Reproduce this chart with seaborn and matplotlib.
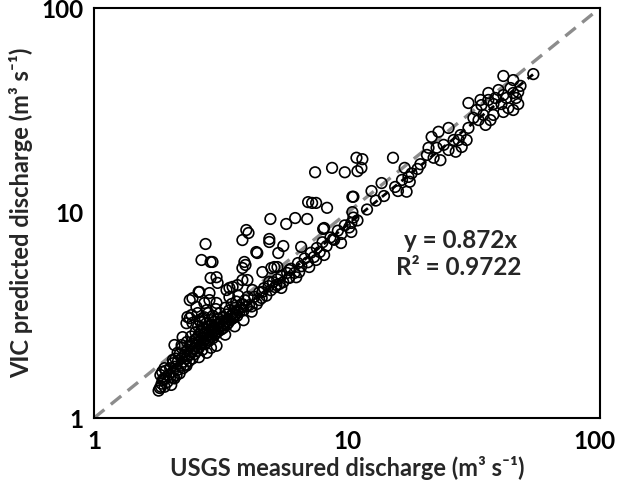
import matplotlib
matplotlib.use("Agg")
import matplotlib.pyplot as plt
import matplotlib.transforms as mtransforms
import seaborn as sns
import pandas as pd
import numpy as np

# ---- data ----
blob_x = [1.82,1.85,1.83,1.88,1.90,1.92,1.95,1.97,2.00,2.00,2.02,2.05,2.05,2.08,2.10,2.10,2.12,2.15,2.15,2.18,
          2.18,2.20,2.22,2.22,2.25,2.25,2.28,2.30,2.30,2.32,2.33,2.35,2.35,2.38,2.40,2.40,2.42,2.44,2.45,2.46,
          2.48,2.50,2.50,2.52,2.53,2.55,2.55,2.57,2.58,2.60,2.60,2.62,2.63,2.65,2.65,2.67,2.68,2.70,2.70,2.72,
          2.73,2.75,2.75,2.77,2.78,2.80,2.80,2.82,2.83,2.85,2.85,2.87,2.88,2.90,2.90,2.92,2.93,2.95,2.95,2.97,
          2.98,3.00,3.00,3.02,3.03,3.05,3.05,3.08,3.10,3.10,3.12,3.15,3.15,3.18,3.20,3.22,3.25,3.25,3.28,3.30,
          3.32,3.35,3.35,3.38,3.40,3.42,3.45,3.48,3.50,3.52,3.55,3.58,3.60,3.62,3.65,3.68,3.70,3.72,3.75,3.80,
          3.85,3.90,3.95,4.00,4.05,4.10,
          2.32,2.43,2.54,2.24,2.22,2.14,2.05,1.90,1.87,1.84,2.08,
          2.79,3.05,2.32,2.05,2.60,2.90,3.30,3.60,3.90,4.20,1.80,1.86]
blob_y = [1.40,1.47,1.62,1.55,1.42,1.70,1.50,1.62,1.58,1.75,1.45,1.68,1.85,1.56,1.78,1.95,1.62,1.72,1.90,1.65,
          2.05,1.80,1.95,2.20,1.75,1.88,2.02,1.82,2.10,1.95,2.35,2.00,2.15,1.90,2.05,2.25,2.50,2.10,1.95,2.30,
          2.18,2.05,2.40,2.62,2.25,2.12,2.45,2.32,2.80,2.20,2.55,2.38,2.95,2.28,2.65,2.45,2.15,2.35,2.75,2.55,
          3.10,2.30,2.62,2.45,2.90,2.40,2.70,2.55,3.25,2.38,2.80,2.62,2.48,2.72,3.00,2.55,2.85,2.45,3.15,2.65,
          2.78,2.55,2.95,2.68,3.40,2.60,2.85,2.75,3.05,2.65,2.90,2.78,3.25,2.70,2.95,2.82,3.10,2.75,2.90,3.45,
          2.95,2.85,3.20,3.05,2.92,3.35,3.00,3.15,3.60,3.05,3.25,3.10,3.45,3.20,3.70,3.15,3.35,3.95,3.28,3.45,
          3.60,3.35,3.75,3.50,3.90,3.55,
          2.90,3.18,3.48,2.48,2.27,2.08,1.92,1.75,1.53,1.42,2.27,
          2.08,2.25,1.80,1.57,1.98,2.20,2.55,2.80,3.00,3.30,1.36,1.68]

trail_x = [4.2,4.3,4.4,4.5,4.6,4.7,4.8,4.9,5.0,5.1,5.2,5.3,5.4,5.5,5.6,5.8,5.9,6.0,6.2,6.4,6.6,6.8,7.0,7.2,
           7.4,7.6,7.8,8.0,8.3,8.6,8.9,9.2,9.5,9.8,10.2,10.6,11.0,
           12.0,13.0,14.0,15.5,16.5,18.0,19.0,19.5]
trail_y = [3.5,3.9,3.6,4.1,3.85,4.3,3.95,4.4,4.2,4.6,4.35,4.75,4.5,4.95,4.6,5.1,4.85,5.35,5.1,5.7,5.5,6.0,
           5.75,6.4,6.1,6.75,6.45,7.2,6.9,7.6,7.4,8.2,7.9,8.7,8.5,9.5,9.2,
           10.4,11.5,12.1,13.4,14.5,15.6,16.4,17.3]

scatter_x = [4.98,5.75,6.24,6.96,8.05,4.93,7.48,8.73,7.02,7.28,7.55,8.34,3.86,4.00,4.08,4.93,5.60,6.59,5.35,
             4.38,4.42,2.94,3.93,3.97,3.86,4.63,5.02,5.16,5.31,5.91,6.47,7.09,7.55,8.12,4.93,5.26,5.50,5.91,
             6.30,3.05,4.04,3.43,4.23,4.63,4.50,2.76,2.66,2.89,2.89,3.08,2.59,2.86,3.86,3.34,3.53,3.43,3.69,
             2.86,3.05,2.79,2.57,2.39,2.45,2.61,8.12,8.81,9.47,2.39,2.45,2.61,2.34,2.73,2.69,
             9.8,10.9,11.5,11.0,11.4,10.6,10.5,10.5,10.4,10.4,15.2,16.9,17.5,17.7,13.7,12.5,15.9,17.2]
scatter_y = [9.35,8.84,9.45,9.35,8.36,7.47,15.8,16.6,11.3,11.2,11.2,10.6,7.38,8.26,7.99,7.22,6.90,6.83,6.38,
             6.45,6.38,5.77,5.77,5.58,5.39,5.15,5.39,5.45,5.45,5.27,5.15,5.45,5.90,6.24,4.61,4.45,4.31,4.82,
             4.86,4.86,4.71,4.31,4.21,4.12,3.76,7.06,5.90,5.77,4.82,4.56,4.12,4.07,4.71,4.21,4.36,3.89,4.45,
             3.76,3.64,3.36,3.25,3.07,2.91,3.01,8.45,7.47,7.14,3.76,3.84,4.12,3.11,3.64,3.07,
             15.8,18.6,18.3,16.0,16.6,12.0,12.0,10.1,8.94,8.08,18.6,16.6,15.0,14.2,14.0,12.8,12.8,12.7]

upper_x = [54.5,41.5,45.4,36.2,30.2,34.0,
           39.7,41.5,42.7,44.3,45.4,46.6,47.5,48.5,43.4,40.8,38.6,37.9,45.4,41.5,47.5,
           32.5,34.6,36.2,36.9,33.1,35.3,37.9,31.6,33.7,
           28.1,30.2,29.7,
           21.0,21.6,23.0,25.2,27.6,28.4,26.9,24.1,22.6,22.0,20.7,23.4,25.2,26.4]
upper_y = [47.6,46.6,44.5,38.5,34.4,33.6,
           39.8,37.6,36.4,40.7,38.5,36.4,34.0,41.7,32.5,34.0,36.4,34.0,31.8,31.1,38.9,
           31.8,30.1,35.6,28.4,28.4,26.9,30.1,29.1,35.6,
           24.0,26.0,22.7,
           20.8,23.5,24.9,26.0,22.7,21.0,19.9,21.5,20.8,18.6,19.2,18.1,20.3,22.7]

slope = 0.872
r2 = 0.9722
x_ticks = [1, 10, 100]
y_ticks = [1, 10, 100]

measured = blob_x + trail_x + scatter_x + upper_x
predicted = blob_y + trail_y + scatter_y + upper_y
df = pd.DataFrame({"measured": measured, "predicted": predicted})

# ---- style ----
sns.set_style("white")
plt.rcParams["font.family"] = ["Lato", "DejaVu Sans"]
plt.rcParams["font.weight"] = "bold"
FS = 17.5

fig = plt.figure(figsize=(6.19, 4.90), dpi=100)
ax = fig.add_axes([94/619, 72/490, 506/619, 410/490])

sns.scatterplot(data=df, x="measured", y="predicted", ax=ax, marker="o",
                facecolor="none", edgecolor="black", linewidth=1.2, s=58, zorder=2)

ax.set_xscale("log")
ax.set_yscale("log")
ax.set_xlim(1, 100)
ax.set_ylim(1, 100)

# 1:1 line
ax.plot([x_ticks[0], x_ticks[-1]], [y_ticks[0], y_ticks[-1]], color="#8c8c8c", lw=2.4,
        dashes=(4, 2.5), zorder=1)
# regression line
xr = np.array([min(measured), max(measured)])
ax.plot(xr, slope * xr, color="black", lw=2.0, dashes=(2.5, 2), zorder=3)

ax.text(0.725, 0.434, f"y = {slope}x", transform=ax.transAxes, ha="center", va="center",
        fontsize=FS, fontweight="bold")
ax.text(0.72, 0.366, f"R² = {r2}", transform=ax.transAxes, ha="center", va="center",
        fontsize=FS, fontweight="bold")

ax.set_xticks(x_ticks)
ax.set_yticks(y_ticks)
ax.set_xticklabels([str(t) for t in x_ticks])
ax.set_yticklabels([str(t) for t in y_ticks])
ax.tick_params(axis="both", which="major", direction="inout", length=9, width=1.3,
               labelsize=FS, colors="black")
ax.tick_params(axis="x", which="major", pad=4)
ax.tick_params(axis="y", which="major", pad=3)
ax.tick_params(axis="both", which="minor", direction="in", length=5, width=1.2)
for lab in ax.get_xticklabels() + ax.get_yticklabels():
    lab.set_fontweight("bold")
# keep the last x tick label inside the figure, as in the reference
last = ax.get_xticklabels()[-1]
last.set_transform(last.get_transform() +
                   mtransforms.ScaledTranslation(-6/100, 0, fig.dpi_scale_trans))

for sp in ax.spines.values():
    sp.set_color("black")
    sp.set_linewidth(1.5)

ax.set_xlabel("USGS measured discharge (m³ s⁻¹)", fontsize=17, fontweight="bold", labelpad=2)
ax.set_ylabel("VIC predicted discharge (m³ s⁻¹)", fontsize=17, fontweight="bold", labelpad=6)

fig.savefig("out.png", dpi=100)
